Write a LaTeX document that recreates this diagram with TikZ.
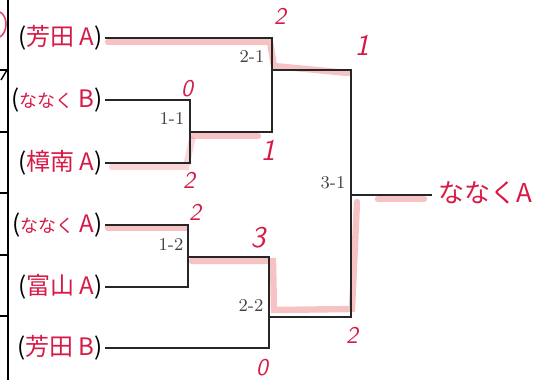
\documentclass[tikz,border=0pt]{standalone}
\usepackage{fontspec}
\newfontfamily\cjk{Noto Sans CJK JP}
\usetikzlibrary{calc,positioning}
\definecolor{pen}{RGB}{215,25,70}
\definecolor{marker}{RGB}{238,120,125}
\newcommand{\hand}{\sffamily\itshape}
\newcommand{\teamname}[1]{\textcolor{black}{(}#1\textcolor{black}{)}}
\newcommand{\smallkana}[1]{{\fontsize{9}{9}\selectfont #1}}

\begin{document}
\begin{tikzpicture}[x=0.5pt,y=-0.5pt,
  line/.style={line width=1pt,black!85},
  hl/.style={marker,line width=3.2pt,opacity=0.45,line cap=round},
  team/.style={anchor=east,inner sep=1pt,text=pen,font=\cjk\fontsize{12}{12}\selectfont},
  res/.style={font=\fontsize{9}{9}\selectfont,text=black!75,inner sep=1pt},
  score/.style={text=pen,font=\hand\fontsize{12}{12}\selectfont,inner sep=0pt}]
\useasboundingbox (0,0) rectangle (559,380);
% ---- left border of the sheet ----
\draw[line width=0.8pt] (8,0) -- (8,380);
\foreach \y in {70,132,193,255,316} \draw[line width=0.8pt] (0,\y) -- (8,\y);
\draw[line width=0.7pt] (7,70) -- (1,80);
\draw[pen!80,line width=0.8pt] (0,12) .. controls (8,16) and (8,32) .. (0,37);
% ---- teams ----
\node[team] (t1) at (105,38)  {\teamname{芳田 A}};
\node[team] (t2) at (105,100) {\teamname{\smallkana{ななく} B}};
\node[team] (t3) at (105,163) {\teamname{樟南 A}};
\node[team] (t4) at (105,225) {\teamname{\smallkana{ななく} A}};
\node[team] (t5) at (105,287) {\teamname{富山 A}};
\node[team] (t6) at (105,348) {\teamname{芳田 B}};
% ---- junctions ----
\coordinate (q1) at (190,132);
\coordinate (q2) at (188,257);
\coordinate (s1) at (272,70);
\coordinate (s2) at (269,317);
\coordinate (f)  at (351,195);
\node[anchor=west,inner sep=3pt,text=pen,font=\cjk\fontsize{13}{13}\selectfont] (w) at (432,193) {ななくA};
% marker strokes under the winning lines
\draw[hl] (108,42) -- (270,42) -- (274,66) -- (348,73);
\draw[hl] (192,136) -- (258,136);
\draw[hl,opacity=0.3] (112,167) -- (186,167) -- (192,140);
\draw[hl] (108,228) -- (186,228);
\draw[hl] (192,261) -- (273,261) -- (274,310) -- (352,309) -- (357,202);
\draw[hl] (378,199) -- (424,199);
% ---- bracket lines ----
\draw[line] (t1.east) -| (s1 |- q1) -- (q1);
\draw[line] (t2.east) -| (q1 |- t3.east) -- (t3.east);
\draw[line] (s1) -- (f |- s1) -- (f |- s2) -- (s2);
\draw[line] (t4.east) -| (q2 |- t5.east) -- (t5.east);
\draw[line] (q2) -| (s2 |- t6.east) -- (t6.east);
\draw[line] (f) -- (f -| w.west);
% ---- printed game numbers ----
\node[res] (g11) at (172,119) {1-1};
\node[res] (g21) at (252,57)  {2-1};
\node[res] (g12) at (171,245) {1-2};
\node[res] (g22) at (251,306) {2-2};
\node[res] (g31) at (333,183) {3-1};
% ---- handwritten scores ----
\node[score] (p1) at (280,16)  {2};
\node[score,font=\hand\fontsize{15}{15}\selectfont] (p2) at (362,45) {1};
\node[score] (p3) at (187,89)  {0};
\node[score,font=\hand\fontsize{15}{15}\selectfont] (p4) at (268,150) {1};
\node[score] (p5) at (189,180) {2};
\node[score] (p6) at (195,212) {2};
\node[score,font=\hand\fontsize{15}{15}\selectfont] (p7) at (258,238) {3};
\node[score] (p8) at (352,335) {2};
\node[score] (p9) at (262,368) {0};
\end{tikzpicture}
\end{document}
